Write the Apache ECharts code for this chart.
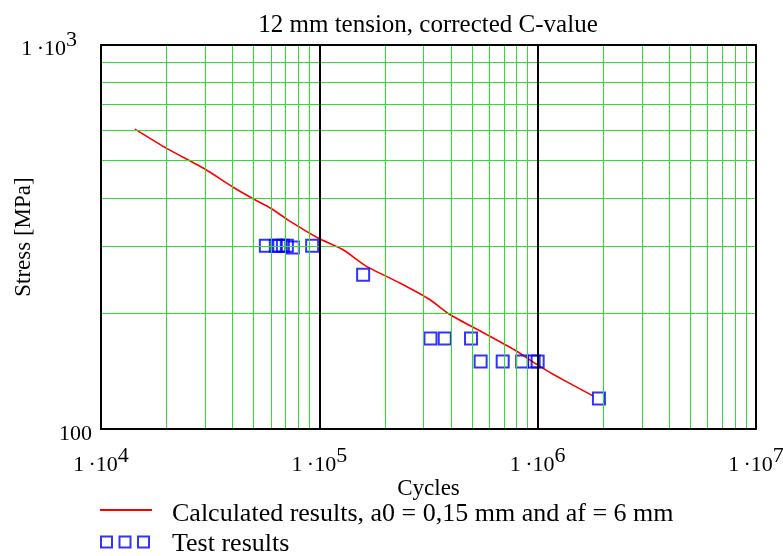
<!DOCTYPE html>
<html>
<head>
<meta charset="utf-8">
<script src="https://cdn.jsdelivr.net/npm/echarts@6/dist/echarts.min.js"></script>
<style>html,body{margin:0;padding:0;background:#fff}#c{width:783px;height:556px}</style>
</head>
<body>
<div id="c"></div>
<script>
// ---- data ----
const titleText = '12 mm tension, corrected C-value';
const xName = 'Cycles';
const yName = 'Stress [MPa]';
const calcName = 'Calculated results, a0 = 0,15 mm and af = 6 mm';
const testName = 'Test results';

const xTicks = [10000, 100000, 1000000, 10000000];
const yTicks = [100, 1000];
const xMinor = [20000, 30000, 40000, 50000, 60000, 70000, 80000, 90000,
                200000, 300000, 400000, 500000, 600000, 700000, 800000, 900000,
                2000000, 3000000, 4000000, 5000000, 6000000, 7000000, 8000000, 9000000];
const yMinor = [200, 300, 400, 500, 600, 700, 800, 900];
const decadeX = [100000, 1000000];

const calcCycles = [14300, 19980, 29900, 40300, 49250, 60400, 71700, 98700, 128500, 164400,
                    233600, 320400, 395700, 582400, 799000, 986000, 1175000, 1791000];
const calcStress = [603.6, 537.9, 475.4, 426.2, 399, 374.6, 350.5, 314.3, 293, 265.2,
                    240.1, 217.4, 198.7, 176.4, 159.6, 147.5, 138.9, 122.0];

const testCycles = [56900, 63200, 65600, 68100, 71000, 75600, 92700, 158700,
                    322800, 375400, 495200, 548000, 691600, 849300, 958700, 1000000, 1908000];
const testStress = [300, 300, 300, 300, 300, 297, 300, 252,
                    172, 172, 172, 150, 150, 150, 150, 150, 120];

// ---- chart ----
const FONT = 'Liberation Serif';
const GREEN = '#2ee02e';
const chart = echarts.init(document.getElementById('c'), null, {renderer: 'canvas'});

function sci(v) {
  const e = Math.round(Math.log10(v));
  return '{m|1\u2009·10}{s|' + e + '}';
}
const supRich = {
  m: {fontFamily: FONT, fontSize: 22, color: '#000', verticalAlign: 'bottom', lineHeight: 22},
  s: {fontFamily: FONT, fontSize: 22, color: '#000', verticalAlign: 'top', padding: [0, 0, 9, 0]},
  s2: {fontFamily: FONT, fontSize: 22, color: '#000', verticalAlign: 'top', padding: [0, 15, 9, 0]},
  n: {fontFamily: FONT, fontSize: 22, color: '#000', padding: [10, 0, 0, 0]}
};

const minorLines = xMinor.map(v => ({xAxis: v})).concat(yMinor.map(v => ({yAxis: v})));
const majorLines = decadeX.map(v => ({xAxis: v}));

const squaresIcon = 'path://M0,0H13V13H0Z M2,2V11H11V2Z M18.5,0H31.5V13H18.5Z M20.5,2V11H29.5V2Z M37,0H50V13H37Z M39,2V11H48V2Z';

const option = {
  animation: false,
  backgroundColor: '#fff',
  title: {
    text: titleText,
    left: 428,
    top: 13,
    textAlign: 'center',
    padding: 0,
    textStyle: {fontFamily: FONT, fontSize: 25, fontWeight: 'normal', color: '#000'}
  },
  grid: {left: 101, right: 27, top: 45, bottom: 127, containLabel: false, outerBoundsMode: 'none'},
  legend: [
    {
      data: [{name: calcName, icon: 'rect', itemStyle: {color: '#ff0000'}}],
      left: 100, top: 501, padding: 0,
      itemWidth: 52, itemHeight: 2,
      formatter: n => '{t|' + n + '}',
      textStyle: {rich: {t: {fontFamily: FONT, fontSize: 26, color: '#000', padding: [8, 0, 0, 15]}}},
      selectedMode: false
    },
    {
      data: [{name: testName, icon: squaresIcon, itemStyle: {color: '#0000ff', borderWidth: 0}}],
      left: 100, top: 531, padding: 0,
      itemWidth: 50, itemHeight: 13,
      formatter: n => '{t|' + n + '}',
      textStyle: {rich: {t: {fontFamily: FONT, fontSize: 26, color: '#000', padding: [4, 0, 0, 17]}}},
      selectedMode: false
    }
  ],
  xAxis: [
    {
      type: 'log', logBase: 10, min: 10000, max: 10000000, position: 'bottom', z: 6,
      name: xName, nameLocation: 'middle', nameGap: 48, nameMoveOverlap: false,
      nameTextStyle: {fontFamily: FONT, fontSize: 23, color: '#000'},
      axisLine: {show: true, onZero: false, lineStyle: {color: '#000', width: 2}},
      axisTick: {show: false},
      splitLine: {show: false},
      axisLabel: {show: true, margin: 16, formatter: v => sci(v), rich: supRich,
        customValues: xTicks}
    },
    {
      type: 'log', logBase: 10, min: 10000, max: 10000000, position: 'top', z: 6,
      axisLine: {show: true, onZero: false, lineStyle: {color: '#000', width: 2}},
      axisTick: {show: false}, axisLabel: {show: false}, splitLine: {show: false}
    }
  ],
  yAxis: [
    {
      type: 'log', logBase: 10, min: 100, max: 1000, position: 'left', z: 6,
      name: yName, nameLocation: 'middle', nameGap: 66, nameRotate: 90, nameMoveOverlap: false,
      nameTextStyle: {fontFamily: FONT, fontSize: 23, color: '#000'},
      axisLine: {show: true, onZero: false, lineStyle: {color: '#000', width: 2}},
      axisTick: {show: false},
      splitLine: {show: false},
      axisLabel: {show: true, margin: 9,
        formatter: v => (Math.round(v) === 100 ? '{n|100}' : '{m|1\u2009·10}{s2|' + Math.round(Math.log10(v)) + '}'),
        rich: supRich, customValues: yTicks}
    },
    {
      type: 'log', logBase: 10, min: 100, max: 1000, position: 'right', z: 6,
      axisLine: {show: true, onZero: false, lineStyle: {color: '#000', width: 2}},
      axisTick: {show: false}, axisLabel: {show: false}, splitLine: {show: false}
    }
  ],
  series: [
    {
      type: 'line', data: [], z: 1, silent: true,
      markLine: {silent: true, symbol: ['none', 'none'], label: {show: false},
        lineStyle: {color: GREEN, width: 1, type: 'solid'}, emphasis: {disabled: true},
        data: minorLines}
    },
    {
      type: 'line', data: [], z: 2, silent: true,
      markLine: {silent: true, symbol: ['none', 'none'], label: {show: false},
        lineStyle: {color: '#000', width: 2, type: 'solid'}, emphasis: {disabled: true},
        data: majorLines}
    },
    {
      name: calcName, type: 'line', z: 3,
      data: calcCycles.map((c, i) => [c, calcStress[i]]),
      showSymbol: false, symbol: 'none', smooth: 0.2,
      lineStyle: {color: '#ff0000', width: 1.6},
      itemStyle: {color: '#ff0000'}
    },
    {
      name: testName, type: 'scatter', z: 4,
      data: testCycles.map((c, i) => [c, testStress[i]]),
      symbol: 'rect', symbolSize: 12,
      itemStyle: {color: 'rgba(0,0,0,0)', borderColor: '#0000ff', borderWidth: 2}
    }
  ]
};
chart.setOption(option);
</script>
</body>
</html>
